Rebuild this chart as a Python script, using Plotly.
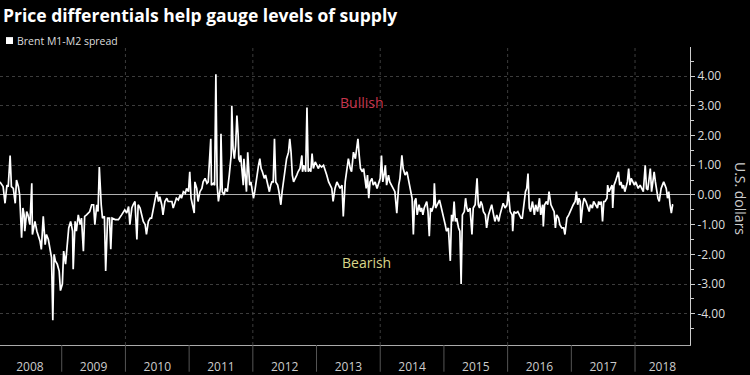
import plotly.graph_objects as go

# ---- data: Brent M1-M2 spread (U.S. dollars), time in decimal years ----
t_2008_2010 = [2008.03, 2008.06, 2008.08, 2008.11, 2008.14, 2008.16, 2008.19, 2008.21, 2008.24, 2008.27,
               2008.29, 2008.32, 2008.34, 2008.37, 2008.39, 2008.41, 2008.42, 2008.45, 2008.47, 2008.50,
               2008.53, 2008.54, 2008.58, 2008.61, 2008.63, 2008.66, 2008.68, 2008.71, 2008.74, 2008.76,
               2008.79, 2008.81, 2008.84, 2008.86, 2008.88, 2008.90, 2008.93, 2008.96, 2008.98, 2009.01,
               2009.03, 2009.06, 2009.09, 2009.11, 2009.14, 2009.17, 2009.18, 2009.21, 2009.23, 2009.26,
               2009.29, 2009.31, 2009.34, 2009.36, 2009.39, 2009.42, 2009.44, 2009.47, 2009.50, 2009.52,
               2009.55, 2009.57, 2009.59, 2009.62, 2009.64, 2009.67, 2009.69, 2009.72, 2009.75, 2009.77,
               2009.79, 2009.84, 2009.89, 2009.94, 2009.97, 2009.99, 2010.02, 2010.05, 2010.07, 2010.10,
               2010.12, 2010.15, 2010.18, 2010.20, 2010.23, 2010.25, 2010.28, 2010.31, 2010.33, 2010.36,
               2010.39, 2010.41, 2010.44, 2010.46, 2010.49, 2010.52, 2010.54, 2010.57, 2010.59, 2010.62,
               2010.65, 2010.67]
v_2008_2010 = [0.44, 0.36, 0.28, -0.28, 0.33, 0.28, 1.33, 0.28, 0.22, -0.28,
               0.50, 0.28, 0.00, -1.44, -0.44, -0.67, -1.22, -0.56, -0.67, -1.00,
               0.39, -1.33, -0.89, -1.22, -1.33, -1.56, -1.83, -0.72, -1.67, -1.33,
               -1.50, -1.78, -2.11, -4.22, -2.00, -2.22, -2.33, -2.56, -3.22, -3.00,
               -1.89, -2.33, -1.67, -1.11, -0.89, -1.22, -2.50, -0.89, -1.22, -0.67,
               -1.00, -0.78, -1.89, -0.72, -0.67, -0.61, -0.56, -0.33, -0.33, -1.00,
               -0.33, -0.56, 0.94, -0.33, -0.78, -0.72, -2.56, -0.78, -0.78, -1.83,
               -0.78, -0.83, -0.83, -0.67, -0.56, -0.50, -0.61, -0.39, -1.00, -0.44,
               -0.33, -0.22, -1.50, -0.33, -0.44, -0.67, -0.89, -1.00, -1.33, -0.89,
               -0.78, -0.78, -0.44, -0.11, 0.11, -0.22, -0.06, -0.33, -0.67, -0.22,
               -0.11, -0.22]

t_2010_2013 = [2010.70, 2010.73, 2010.75, 2010.78, 2010.80, 2010.83, 2010.86, 2010.88, 2010.91, 2010.94,
               2010.96, 2010.99, 2011.01, 2011.03, 2011.05, 2011.08, 2011.09, 2011.12, 2011.14, 2011.17,
               2011.20, 2011.22, 2011.25, 2011.28, 2011.30, 2011.34, 2011.35, 2011.38, 2011.40, 2011.42,
               2011.44, 2011.46, 2011.49, 2011.50, 2011.52, 2011.55, 2011.57, 2011.60, 2011.63, 2011.64,
               2011.66, 2011.67, 2011.69, 2011.71, 2011.73, 2011.75, 2011.77, 2011.78, 2011.80, 2011.81,
               2011.83, 2011.85, 2011.86, 2011.88, 2011.90, 2011.92, 2011.95, 2011.97, 2011.99, 2012.01,
               2012.03, 2012.05, 2012.07, 2012.09, 2012.11, 2012.13, 2012.15, 2012.18, 2012.20, 2012.22,
               2012.24, 2012.26, 2012.28, 2012.30, 2012.32, 2012.34, 2012.36, 2012.39, 2012.41, 2012.43,
               2012.44, 2012.46, 2012.48, 2012.51, 2012.53, 2012.56, 2012.58, 2012.60, 2012.62, 2012.64,
               2012.66, 2012.69, 2012.71, 2012.74, 2012.77, 2012.78, 2012.80, 2012.83, 2012.85, 2012.87,
               2012.89, 2012.91, 2012.93, 2012.95, 2012.98, 2013.00, 2013.03, 2013.05, 2013.08, 2013.11,
               2013.13, 2013.16, 2013.19, 2013.21, 2013.24, 2013.26, 2013.29, 2013.32, 2013.34]
v_2010_2013 = [-0.22, -0.22, -0.44, -0.22, -0.11, -0.17, 0.00, -0.11, 0.11, 0.06,
               0.22, 0.11, 0.78, -0.11, -0.33, -0.61, 0.44, 0.22, -0.22, 0.11,
               0.22, 0.44, 0.56, 0.39, 0.44, 1.89, 0.33, 0.39, 0.33, 4.06,
               0.33, -0.22, 0.22, 2.06, 0.11, 0.00, 0.22, 0.11, 0.67, 1.00,
               1.33, 3.00, 1.56, 1.22, 1.67, 2.67, 2.00, 1.22, 1.11, 1.33,
               0.89, 0.33, 1.22, 0.67, 0.11, 1.44, 0.33, 0.44, 0.11, -0.11,
               0.11, 0.44, 0.78, 1.00, 1.22, 0.89, 0.78, 0.56, 0.67, 0.44,
               0.22, 0.11, 0.33, 0.44, 0.44, 1.89, 0.44, 0.33, 0.11, -0.11,
               -0.33, 0.11, 0.44, 0.89, 1.22, 1.44, 1.89, 1.44, 0.67, 0.44,
               0.56, 0.67, 0.78, 0.89, 1.33, 0.78, 1.00, 0.78, 2.94, 0.78,
               0.89, 0.78, 1.39, 0.89, 1.11, 1.00, 0.89, 1.00, 0.94, 1.00,
               0.89, 0.67, 0.44, 0.33, 0.22, -0.22, 0.22, 0.44, 0.33]

t_2013_2016 = [2013.37, 2013.40, 2013.42, 2013.45, 2013.47, 2013.50, 2013.53, 2013.55, 2013.58, 2013.61,
               2013.63, 2013.65, 2013.67, 2013.69, 2013.72, 2013.74, 2013.76, 2013.78, 2013.80, 2013.82,
               2013.84, 2013.87, 2013.89, 2013.92, 2013.95, 2013.97, 2014.00, 2014.02, 2014.04, 2014.06,
               2014.08, 2014.10, 2014.13, 2014.15, 2014.18, 2014.21, 2014.23, 2014.26, 2014.29, 2014.31,
               2014.34, 2014.36, 2014.39, 2014.42, 2014.44, 2014.47, 2014.50, 2014.52, 2014.54, 2014.56,
               2014.58, 2014.61, 2014.63, 2014.65, 2014.67, 2014.69, 2014.71, 2014.73, 2014.75, 2014.77,
               2014.79, 2014.81, 2014.84, 2014.85, 2014.87, 2014.89, 2014.91, 2014.93, 2014.96, 2014.98,
               2015.00, 2015.02, 2015.04, 2015.07, 2015.10, 2015.12, 2015.14, 2015.16, 2015.18, 2015.20,
               2015.23, 2015.25, 2015.27, 2015.29, 2015.32, 2015.34, 2015.36, 2015.38, 2015.41, 2015.44,
               2015.46, 2015.49, 2015.52, 2015.54, 2015.56, 2015.58, 2015.60, 2015.62, 2015.65, 2015.67,
               2015.70, 2015.72, 2015.75, 2015.78, 2015.80, 2015.83, 2015.86, 2015.88, 2015.91, 2015.93,
               2015.96, 2015.99, 2016.01]
v_2013_2016 = [0.22, 0.33, -0.72, 0.44, 0.78, 1.22, 0.89, 0.78, 1.44, 1.22,
               1.56, 1.89, 1.33, 0.89, 0.78, 0.89, 0.56, 0.22, 0.67, -0.11,
               0.44, 0.56, 0.33, 0.44, 0.22, 0.33, 0.56, 1.33, 0.44, 0.67,
               1.00, 0.33, 0.67, 0.44, 0.33, 0.22, 0.11, -0.61, 0.33, 0.56,
               1.33, 0.89, 0.67, 0.78, 0.56, 0.33, -0.11, -1.33, -0.22, -0.11,
               -0.67, -0.33, -0.56, -0.44, -0.67, -0.44, -0.33, -0.22, -0.56, -1.39,
               -0.44, -0.56, -0.33, 0.39, -0.44, -0.33, -0.22, -0.17, -0.44, -0.67,
               -0.78, -1.00, -1.22, -1.11, -2.22, -0.67, -0.89, -0.22, -0.89, -0.78,
               -1.11, -1.22, -3.00, -0.67, -0.56, -0.11, -0.44, -0.56, -0.44, -1.33,
               -0.44, -0.33, 0.56, -0.33, -0.44, -0.22, -0.33, -0.56, -0.67, -1.11,
               -0.67, -0.56, -0.33, -0.67, -0.89, -0.67, -0.89, -0.67, -0.44, -0.28,
               -0.44, -0.33, 0.11]

t_2016_2018 = [2016.04, 2016.07, 2016.08, 2016.10, 2016.13, 2016.16, 2016.18, 2016.21, 2016.23, 2016.26,
               2016.28, 2016.30, 2016.32, 2016.34, 2016.36, 2016.39, 2016.42, 2016.44, 2016.47, 2016.50,
               2016.52, 2016.55, 2016.56, 2016.58, 2016.61, 2016.63, 2016.65, 2016.68, 2016.70, 2016.73,
               2016.75, 2016.77, 2016.80, 2016.82, 2016.85, 2016.88, 2016.90, 2016.93, 2016.96, 2016.98,
               2017.01, 2017.03, 2017.06, 2017.08, 2017.10, 2017.12, 2017.14, 2017.15, 2017.18, 2017.20,
               2017.23, 2017.25, 2017.28, 2017.30, 2017.33, 2017.35, 2017.38, 2017.41, 2017.43, 2017.45,
               2017.47, 2017.49, 2017.51, 2017.53, 2017.56, 2017.57, 2017.59, 2017.62, 2017.64, 2017.65,
               2017.67, 2017.69, 2017.71, 2017.74, 2017.76, 2017.78, 2017.80, 2017.82, 2017.84, 2017.86,
               2017.88, 2017.90, 2017.92, 2017.94, 2017.97, 2017.99, 2018.01, 2018.03, 2018.05, 2018.08,
               2018.11, 2018.13, 2018.16, 2018.18, 2018.20, 2018.22, 2018.24, 2018.26, 2018.28, 2018.30,
               2018.32, 2018.34, 2018.36, 2018.38, 2018.41, 2018.43, 2018.45, 2018.47, 2018.49, 2018.51,
               2018.53, 2018.55, 2018.57, 2018.59, 2018.60]
v_2016_2018 = [-0.56, -0.67, -1.22, -0.56, -0.61, -0.56, -0.67, -0.78, -0.78, -0.22,
               0.11, 0.22, 0.72, -0.44, -0.56, -0.22, -0.67, -0.33, -0.56, -0.11,
               -0.67, -0.33, -1.06, -0.33, -0.22, -0.33, 0.11, -0.33, -0.44, -0.56,
               -1.11, -0.67, -0.78, -1.00, -1.11, -1.11, -1.33, -0.78, -0.67, -0.56,
               -0.44, -0.33, -0.22, 0.11, -0.33, -0.11, -0.22, -0.94, -0.33, -0.11,
               -0.22, -0.33, -0.56, -0.33, -0.44, -0.22, -0.33, -0.44, -0.22, -0.33,
               -0.22, -0.89, -0.22, -0.22, -0.11, 0.33, 0.11, 0.22, 0.33, -0.44,
               0.33, 0.44, 0.56, 0.78, 0.33, 0.44, 0.22, 0.33, 0.11, 0.33,
               0.44, 0.89, 0.33, 0.56, 0.44, 0.33, 0.44, 0.33, 0.22, 0.33,
               0.22, 0.11, 1.00, 0.22, 0.17, 0.67, 0.89, 0.11, 0.56, 0.78,
               0.44, 0.11, -0.11, -0.22, 0.22, 0.33, 0.44, 0.33, 0.22, -0.11,
               0.11, -0.33, -0.61, -0.33, -0.33]

years = t_2008_2010 + t_2010_2013 + t_2013_2016 + t_2016_2018
spread = v_2008_2010 + v_2010_2013 + v_2013_2016 + v_2016_2018

# axis labels
year_labels = ["2008", "2009", "2010", "2011", "2012", "2013", "2014", "2015", "2016", "2017", "2018"]
year_label_pos = [2008.5, 2009.5, 2010.5, 2011.5, 2012.5, 2013.5, 2014.5, 2015.5, 2016.5, 2017.5, 2018.43]
year_starts = [2009, 2010, 2011, 2012, 2013, 2014, 2015, 2016, 2017, 2018]
grid_years = [2010, 2012, 2014, 2016, 2018]
y_tick_vals = [-4, -3, -2, -1, 0, 1, 2, 3, 4]
y_tick_text = ["-4.00", "-3.00", "-2.00", "-1.00", "0.00", "1.00", "2.00", "3.00", "4.00"]

X_RANGE = [2008.031, 2018.863]
Y_RANGE = [-5.05, 4.98]
PLOT_H = 301.0
BAND = 27.0
FONT = "Open Sans"

fig = go.Figure()
fig.add_trace(go.Scatter(x=years, y=spread, mode="lines",
                         line=dict(color="#ffffff", width=1.7),
                         hoverinfo="skip", showlegend=False))

shapes = []
for yr in grid_years:
    shapes.append(dict(type="line", xref="x", yref="paper", x0=yr, x1=yr, y0=0, y1=1,
                       line=dict(color="#3c3c3c", width=1, dash="dot"), layer="below"))
for yr in year_starts:
    shapes.append(dict(type="line", xref="x", yref="paper", x0=yr, x1=yr,
                       y0=-BAND / PLOT_H, y1=0, line=dict(color="#555555", width=1)))
# legend swatch
shapes.append(dict(type="rect", xref="paper", yref="paper",
                   x0=6 / 690, x1=13 / 690, y0=(348 - 44) / PLOT_H, y1=(348 - 37) / PLOT_H,
                   fillcolor="#ffffff", line=dict(width=0)))

annotations = [
    dict(text="<b>Price differentials help gauge levels of supply</b>", xref="paper", yref="paper",
         x=1 / 690, y=(348 - 15) / PLOT_H, xanchor="left", yanchor="middle", showarrow=False,
         font=dict(family=FONT, size=17.5, color="#ffffff")),
    dict(text="Brent M1-M2 spread", xref="paper", yref="paper",
         x=15 / 690, y=(348 - 40.5) / PLOT_H, xanchor="left", yanchor="middle", showarrow=False,
         font=dict(family=FONT, size=10.5, color="#dddddd")),
    dict(text="Bullish", xref="x", yref="y", x=2013.71, y=3.12, showarrow=False,
         font=dict(family=FONT, size=14, color="#c8354c")),
    dict(text="Bearish", xref="x", yref="y", x=2013.78, y=-2.28, showarrow=False,
         font=dict(family=FONT, size=14, color="#d9d68a")),
    dict(text="U.S. dollars", xref="paper", yref="y", x=740 / 690, y=-0.1, textangle=90,
         showarrow=False, xanchor="center", yanchor="middle",
         font=dict(family=FONT, size=14, color="#cccccc")),
]

fig.update_layout(
    width=750, height=375,
    margin=dict(l=0, r=60, t=47, b=27, pad=0),
    paper_bgcolor="#000000", plot_bgcolor="#000000",
    font=dict(family=FONT, color="#cccccc"),
    shapes=shapes, annotations=annotations,
    xaxis=dict(range=X_RANGE, tickmode="array", tickvals=year_label_pos, ticktext=year_labels,
               showgrid=False, zeroline=False, showline=True, linecolor="#aaaaaa", linewidth=1,
               ticks="", tickfont=dict(family=FONT, size=12, color="#cccccc"),
               ticklabelstandoff=11, fixedrange=True),
    yaxis=dict(side="right", range=Y_RANGE, tickmode="array", tickvals=y_tick_vals, ticktext=y_tick_text,
               showgrid=True, gridcolor="#3c3c3c", griddash="dot", gridwidth=1,
               zeroline=True, zerolinecolor="#b0b0b0", zerolinewidth=1,
               showline=True, linecolor="#cccccc", linewidth=1,
               ticks="outside", ticklen=4, tickcolor="#cccccc",
               minor=dict(tickmode="linear", tick0=0.5, dtick=1, ticks="outside", ticklen=3,
                          tickcolor="#cccccc", showgrid=False),
               tickfont=dict(family=FONT, size=12, color="#dddddd"), fixedrange=True),
)

fig.write_html("out.html",
               config={"displayModeBar": False, "staticPlot": True},
               post_script="document.body.style.margin='0px';document.body.style.padding='0px';"
                           "document.body.style.overflow='hidden';")
